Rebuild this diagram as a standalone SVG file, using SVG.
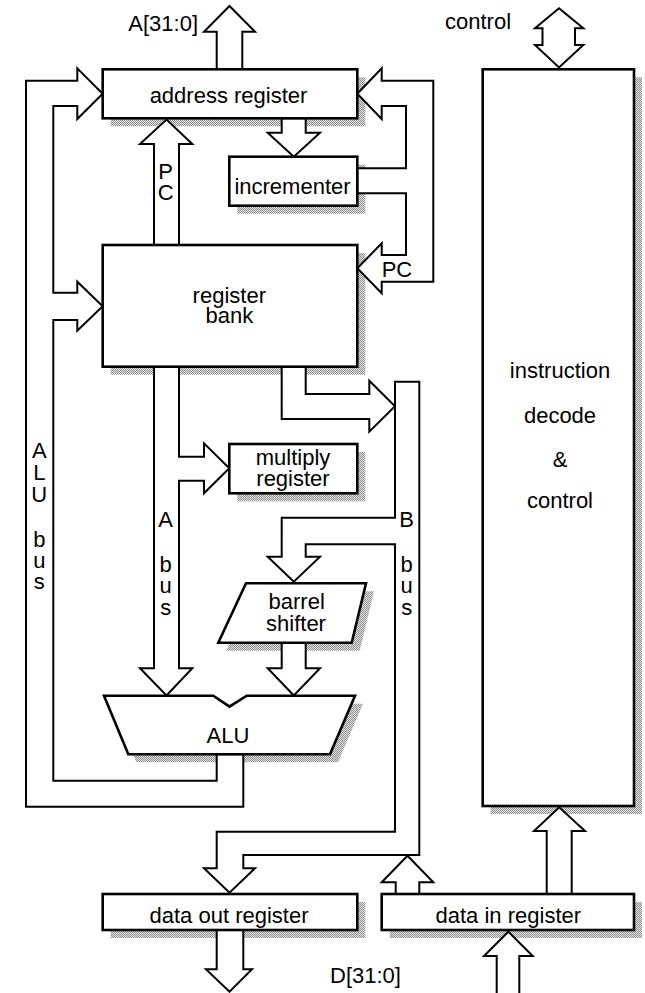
<svg xmlns="http://www.w3.org/2000/svg" width="645" height="993" viewBox="0 0 645 993">
<defs>
<pattern id="dots" patternUnits="userSpaceOnUse" width="2" height="2">
<rect width="2" height="2" fill="#e6e6e6"/>
<rect width="1" height="1" fill="#8c8c8c"/>
<rect x="1" y="1" width="1" height="1" fill="#8c8c8c"/>
</pattern>
<style>
.box{fill:#fff;stroke:#000;stroke-width:2.6;stroke-linejoin:miter}
.sh{fill:url(#dots);stroke:none}
.con{fill:#fff;stroke:#000;stroke-width:2;stroke-linejoin:miter}
text{font-family:"Liberation Sans",Arial,sans-serif;font-size:22px;fill:#000}
.c{text-anchor:middle}
</style>
</defs>
<rect width="645" height="993" fill="#fff"/>

<g id="shadows">
<rect class="sh" x="110.7" y="77.3" width="254.6" height="49"/>
<rect class="sh" x="237.3" y="164.7" width="128" height="49"/>
<rect class="sh" x="110.7" y="253" width="254.6" height="121.7"/>
<rect class="sh" x="237.3" y="452" width="128" height="49.3"/>
<polygon class="sh" points="254,591.3 374,591.3 359.7,650.7 226.3,650.7"/>
<polygon class="sh" points="112,703.7 363,703.7 338,762.3 136.3,762.3"/>
<rect class="sh" x="110.7" y="902" width="254.6" height="36"/>
<rect class="sh" x="389.7" y="902" width="252.3" height="36"/>
<rect class="sh" x="490.7" y="77.3" width="151.3" height="736.7"/>
</g>

<g id="connectors">
<polygon class="con" points="216.7,69.3 216.7,31.7 204,31.7 229.5,6 255,31.7 242.3,31.7 242.3,69.3"/>
<polygon class="con" points="243.3,754.3 243.3,806.7 26,806.7 26,80.7 77.3,80.7 77.3,68.3 102.7,93.7 77.3,119 77.3,106 53.3,106 53.3,292.7 77.3,292.7 77.3,281.7 102.7,306.2 77.3,330.7 77.3,320 53.3,320 53.3,780.7 216.7,780.7 216.7,754.3"/>
<polygon class="con" points="357.3,93.7 381.7,68.3 381.7,80.7 433.3,80.7 433.3,281.7 381.7,281.7 381.7,293.3 357.3,268.3 381.7,243.3 381.7,255 406,255 406,193.3 357.3,193.3 357.3,168.3 406,168.3 406,106 381.7,106 381.7,119"/>
<polygon class="con" points="281.7,118.3 281.7,132.7 267.7,132.7 293.8,156.7 320,132.7 305.7,132.7 305.7,118.3"/>
<polygon class="con" points="154,245 154,144 140,144 166.5,119.5 192.3,144 179,144 179,245"/>
<polygon class="con" points="154,366.7 154,668.3 140,668.3 166.5,695.5 192.3,668.3 179,668.3 179,480.7 204,480.7 204,493.3 229.3,468.3 204,443.3 204,456.7 179,456.7 179,366.7"/>
<polygon class="con" points="281.7,366.7 281.7,419 369.3,419 369.3,431.7 395,406.2 369.3,380.7 369.3,394 305.7,394 305.7,366.7"/>
<polygon class="con" points="395,517.7 395,381.7 419.3,381.7 419.3,855 243.3,855 243.3,868.3 255,868.3 229.5,892.7 204,868.3 216.7,868.3 216.7,831.7 395,831.7 395,544.3 305.7,544.3 305.7,556.7 320,556.7 293.8,581.7 267.7,556.7 281.7,556.7 281.7,517.7"/>
<polygon class="con" points="281.7,642.7 281.7,668.3 267.7,668.3 293.8,695.5 320,668.3 305.7,668.3 305.7,642.7"/>
<polygon class="con" points="395.7,894 395.7,882.3 381.7,882.3 407.5,855.7 433.3,882.3 419.3,882.3 419.3,894"/>
<polygon class="con" points="216.7,930 216.7,969.3 206,969.3 229.5,991.7 252,969.3 243.3,969.3 243.3,930"/>
<path class="con" d="M496.7,994 V956 H484 L508.3,931.7 L532.7,956 H519.3 V994"/>
<polygon class="con" points="546.7,894 546.7,831 534,831 559.2,807.3 585,831 571.7,831 571.7,894"/>
<polygon class="con" points="559,8.3 583.3,28.3 575,28.3 575,45 583.3,45 559,67.5 535,45 542.5,45 542.5,28.3 535,28.3"/>

<text x="128.3" y="30.5">A[31:0]</text>
<text x="445" y="29">control</text>
<text x="330" y="983">D[31:0]</text>
<text x="381.7" y="277">PC</text>
<text class="c" x="165.7" y="179">P<tspan x="165.7" y="200">C</tspan></text>
<text class="c" x="165.7" y="526.7">A<tspan x="165.7" y="571.7">b</tspan><tspan x="165.7" y="593.3">u</tspan><tspan x="165.7" y="615">s</tspan></text>
<text class="c" x="406.7" y="526.7">B<tspan x="406.7" y="571.7">b</tspan><tspan x="406.7" y="593.3">u</tspan><tspan x="406.7" y="615">s</tspan></text>
<text class="c" x="39.3" y="458">A<tspan x="39.3" y="480">L</tspan><tspan x="39.3" y="501.5">U</tspan><tspan x="39.3" y="547">b</tspan><tspan x="39.3" y="568">u</tspan><tspan x="39.3" y="589">s</tspan></text>
</g>

<g id="address-register">
<rect class="box" x="102.7" y="69.3" width="254.6" height="49"/>
<text class="c" x="228.5" y="103">address register</text>
</g>
<g id="incrementer">
<rect class="box" x="229.3" y="156.7" width="128" height="49"/>
<text class="c" x="292.5" y="194">incrementer</text>
</g>
<g id="register-bank">
<rect class="box" x="102.7" y="245" width="254.6" height="121.7"/>
<text class="c" x="229.3" y="303">register<tspan x="229.3" y="323">bank</tspan></text>
</g>
<g id="multiply-register">
<rect class="box" x="229.3" y="444" width="128" height="49.3"/>
<text class="c" x="293" y="465">multiply<tspan x="293" y="486">register</tspan></text>
</g>
<g id="barrel-shifter">
<polygon class="box" points="246,583.3 366,583.3 351.7,642.7 218.3,642.7"/>
<text class="c" x="296.7" y="609">barrel<tspan x="296" y="630.5">shifter</tspan></text>
</g>
<g id="alu">
<polygon class="box" points="104,695.7 213.3,695.7 229.5,706.7 246.7,695.7 355,695.7 330,754.3 128.3,754.3"/>
<text class="c" x="228" y="742.5">ALU</text>
</g>
<g id="data-out-register">
<rect class="box" x="102.7" y="894" width="254.6" height="36"/>
<text class="c" x="229" y="923">data out register</text>
</g>
<g id="data-in-register">
<rect class="box" x="381.7" y="894" width="252.3" height="36"/>
<text class="c" x="508.3" y="923">data in register</text>
</g>
<g id="instruction-decode">
<rect class="box" x="482.7" y="69.3" width="151.3" height="736.7"/>
<text class="c" x="560" y="378">instruction</text>
<text class="c" x="560" y="423">decode</text>
<text class="c" x="560" y="467">&amp;</text>
<text class="c" x="560" y="508">control</text>
</g>
</svg>
